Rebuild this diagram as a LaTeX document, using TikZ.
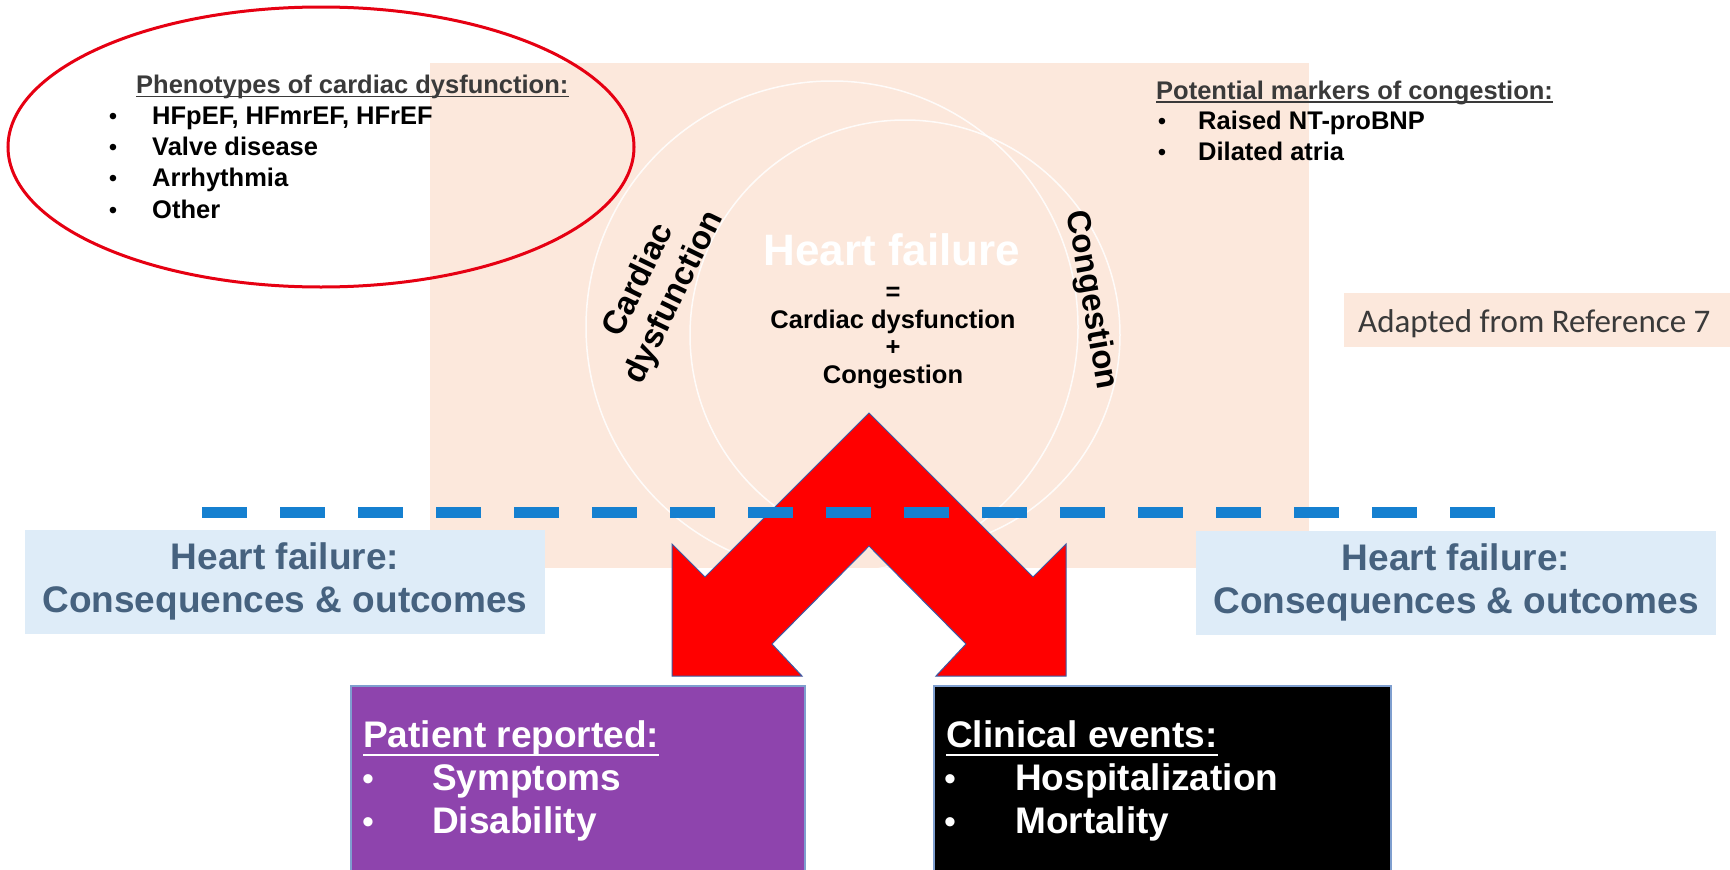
\documentclass[tikz,border=0pt]{standalone}
\usepackage{fontspec}
\setmainfont{Liberation Sans}
\newfontfamily\notefont{Carlito}
\usepackage{tikz}
\usetikzlibrary{positioning, calc}
\definecolor{hfpeach}{HTML}{FCE8DC}
\definecolor{hfblue}{HTML}{DEECF8}
\definecolor{hfslate}{HTML}{46627F}
\definecolor{hfdash}{HTML}{1580D0}
\definecolor{hfpurple}{HTML}{8E44AD}
\definecolor{hfring}{HTML}{E60012}
\definecolor{hfedge}{HTML}{3B5BA5}
\definecolor{hfgrey}{HTML}{3A3A3A}
\definecolor{boxedge}{HTML}{7F9FCF}
\newcommand{\hfsize}[1]{\fontsize{#1}{#1}\selectfont}

\begin{document}
\begin{tikzpicture}[x=1pt,y=-1pt,
  lst/.style={font=\bfseries\hfsize{25.5}, inner sep=0pt, anchor=base west},
  bul/.style={font=\hfsize{24}, inner sep=0pt, anchor=base},
  eqn/.style={font=\bfseries\hfsize{25.5}, inner sep=0pt, anchor=base},
  big/.style={font=\bfseries\hfsize{37}, inner sep=0pt, anchor=base west, text=white},
  bigbul/.style={font=\hfsize{34}, inner sep=0pt, anchor=base, text=white},
  rot/.style={font=\bfseries\fontsize{33}{39}\selectfont, inner sep=0pt, align=center},
  ring/.style={draw=white, line width=1.5, opacity=0.85},
  hfbox/.style={fill=hfblue, text=hfslate, font=\bfseries\fontsize{37}{43}\selectfont,
    align=center, minimum width=520, minimum height=104, inner sep=0pt},
  outbox/.style={draw=boxedge, line width=1.5, anchor=north west, minimum height=200, inner sep=0pt}]
\clip (0,0) rectangle (1730,870);
\fill[white] (0,0) rectangle (1730,870);
\fill[hfpeach] (430,63) rectangle (1309,568);
\draw[ring] (832,327) circle[radius=246];
\draw[ring] (905,335) circle[radius=215];

\fill[hfpeach] (1344,293) rectangle (1730,347);
\node[inner sep=0pt, anchor=base west, font=\notefont\hfsize{33}, text=hfgrey] (note) at (1358,332) {Adapted from Reference 7};

\draw[hfring, line width=3] (321,147) ellipse[x radius=313, y radius=140];

\node[lst, text=hfgrey] (phenohdr) at (136,93) {Phenotypes of cardiac dysfunction:};
\draw[hfgrey, line width=1.5] ([yshift=-3.5pt]phenohdr.base west) -- ([yshift=-3.5pt]phenohdr.base east);
\foreach \t [count=\i] in {{HFpEF, HFmrEF, HFrEF},Valve disease,Arrhythmia,Other}{
  \node[lst] (pheno\i) at (152,{93+31.3*\i}) {\t};
  \node[bul] (phenob\i) at (113,{93+31.3*\i}) {\textbullet};}

\node[lst, text=hfgrey] (markhdr) at (1156,99) {Potential markers of congestion:};
\draw[hfgrey, line width=1.5] ([yshift=-3pt]markhdr.base west) -- ([yshift=-3pt]markhdr.base east);
\foreach \t [count=\i] in {Raised NT-proBNP,Dilated atria}{
  \node[lst] (mark\i) at (1198,{99+30.5*\i}) {\t};
  \node[bul] (markb\i) at (1162,{99+30.5*\i}) {\textbullet};}

\node[eqn, font=\bfseries\hfsize{44}, text=white] (hf) at (892,265) {Heart failure};
\foreach \t/\yy [count=\i] in {=/300,Cardiac dysfunction/328,+/355,Congestion/383}{
  \node[eqn] (eq\i) at (893,\yy) {\t};}
\node[rot, rotate=64] (cdlab) at (657,289) {Cardiac\\dysfunction};
\node[rot, rotate=-80] (cglab) at (1091,300) {Congestion};

\draw[fill=red, draw=hfedge, line width=1]
  (869,413) -- (1033,577) -- (1066,544) -- (1066,676) -- (936,676) -- (966,644) -- (869,546)
  -- (772,644) -- (802,676) -- (672,676) -- (672,544) -- (705,577) -- cycle;

\coordinate (dashl) at (202,512);
\coordinate (dashr) at (1500,512);
\draw[hfdash, line width=11, dash pattern=on 45 off 33] (dashl) -- (dashr);

\node[hfbox] (hfleft) at (285,581.5) {Heart failure:\\Consequences \& outcomes};
\node[hfbox] (hfright) at (1456,582.5) {Heart failure:\\Consequences \& outcomes};

\node[outbox, fill=hfpurple, minimum width=454] (ptbox) at (350,685) {};
\node[outbox, fill=black, minimum width=457] (clbox) at (933,685) {};

\node[big] (pthdr) at (363,747) {Patient reported:};
\draw[white, line width=2.5] ([yshift=-8pt]pthdr.base west) -- ([yshift=-8pt]pthdr.base east);
\foreach \t [count=\i] in {Symptoms,Disability}{
  \node[big] (pt\i) at (432,{747+43*\i}) {\t};
  \node[bigbul] (ptb\i) at (368,{747+43*\i}) {\textbullet};}

\node[big] (clhdr) at (946,747) {Clinical events:};
\draw[white, line width=2.5] ([yshift=-8pt]clhdr.base west) -- ([yshift=-8pt]clhdr.base east);
\foreach \t [count=\i] in {Hospitalization,Mortality}{
  \node[big] (cl\i) at (1015,{747+43*\i}) {\t};
  \node[bigbul] (clb\i) at (950,{747+43*\i}) {\textbullet};}
\end{tikzpicture}
\end{document}
